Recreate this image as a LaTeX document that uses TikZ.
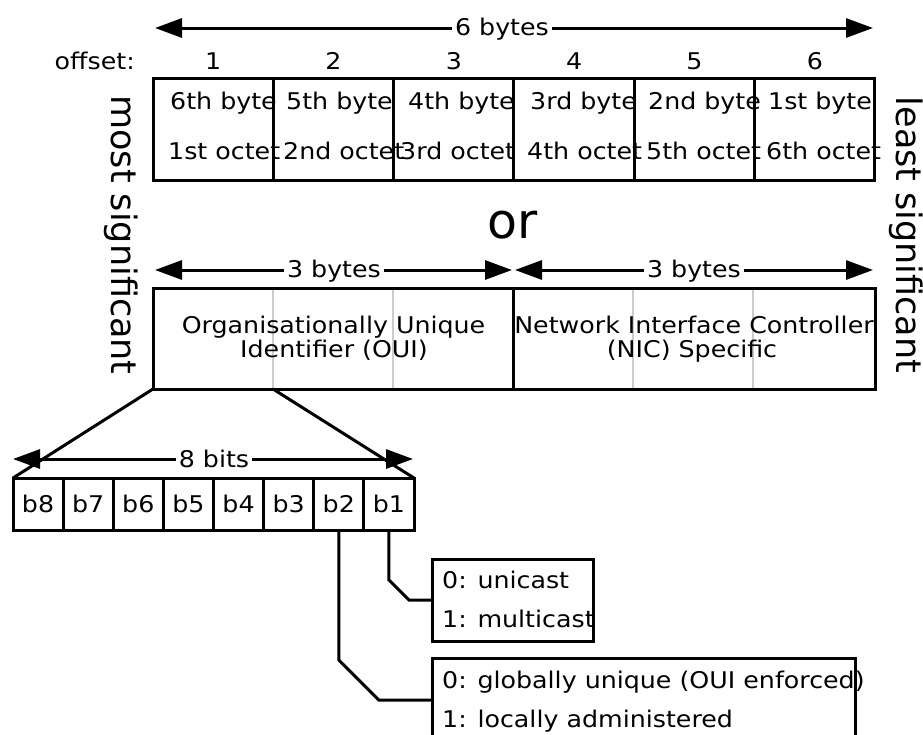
\documentclass[tikz,border=0pt]{standalone}
\usepackage{fontspec}
\setmainfont{DejaVu Sans}[FakeStretch=1.1]
\newfontfamily\sidefont{DejaVu Sans}
\usetikzlibrary{arrows.meta,calc}
\begin{document}
\begin{tikzpicture}[x=1pt,y=-1pt,
  lw/.style={line width=3pt},
  dim/.style={line width=3pt,{Triangle[length=27pt,width=19pt]}-{Triangle[length=27pt,width=19pt]}},
  txt/.style={font=\fontsize{23}{24}\selectfont, inner sep=0pt, text=black},
  lab/.style={font=\fontsize{23}{24}\selectfont, fill=white, inner xsep=3pt, inner ysep=0pt},
  cell/.style={draw, line width=3pt, outer sep=0pt, inner sep=0pt, minimum width=120.33pt, minimum height=102pt},
  half/.style={draw, line width=3pt, outer sep=0pt, inner sep=0pt, minimum height=101pt},
  bit/.style={draw, line width=3pt, outer sep=0pt, inner sep=0pt, minimum width=50.125pt, minimum height=52pt, font=\fontsize{23}{24}\selectfont},
  infobox/.style={draw, line width=3pt, outer sep=0pt, inner sep=0pt},
  side/.style={font=\sidefont\fontsize{35}{36}\selectfont, rotate=-90, inner sep=0pt},
  graydiv/.style={line width=2pt, draw=black!20}
]
\useasboundingbox (0,0) rectangle (923,734);
\fill[white] (0,0) rectangle (923,734);
\clip (0,0) rectangle (923,734);

% ---- 6 bytes arrow
\coordinate (t6l) at (155,28);
\coordinate (t6r) at (873,28);
\draw[dim] (t6l) -- (t6r);
\node[lab, anchor=base] (l6) at (502,35) {6 bytes};

% ---- offsets
\node[txt, anchor=base east] (off) at (135,69) {offset:};
\foreach \i in {1,...,6} {
  \node[txt, anchor=base] (o\i) at ({153+120.33*(\i-0.5)},69) {\i};
}

% ---- top row texts
\node[txt, anchor=base west] (r1c1) at (170,109) {6th byte};
\node[txt, anchor=base west] (r1c2) at (286,109) {5th byte};
\node[txt, anchor=base west] (r1c3) at (408,109) {4th byte};
\node[txt, anchor=base west] (r1c4) at (530,109) {3rd byte};
\node[txt, anchor=base west] (r1c5) at (648,109) {2nd byte};
\node[txt, anchor=base west] (r1c6) at (768,109) {1st byte};
\node[txt, anchor=base west] (r2c1) at (168,159) {1st octet};
\node[txt, anchor=base west] (r2c2) at (283,159) {2nd octet};
\node[txt, anchor=base west] (r2c3) at (400,159) {3rd octet};
\node[txt, anchor=base west] (r2c4) at (527,159) {4th octet};
\node[txt, anchor=base west] (r2c5) at (646,159) {5th octet};
\node[txt, anchor=base west] (r2c6) at (766,159) {6th octet};
% ---- top row cells
\foreach \i in {1,...,6} {
  \node[cell] (c\i) at ({153+120.33*(\i-0.5)},129) {};
}

% ---- side texts
\node[side] (ms) at (121,235) {most significant};
\node[side] (ls) at (906,235) {least significant};

% ---- or
\node[font=\sidefont\fontsize{49}{50}\selectfont, inner sep=0pt, anchor=base] (or) at (513,238) {or};

% ---- 3 bytes arrows
\coordinate (a3l) at (155,270);
\coordinate (a3m1) at (512,270);
\coordinate (a3m2) at (515,270);
\coordinate (a3r) at (873,270);
\draw[dim] (a3l) -- (a3m1);
\draw[dim] (a3m2) -- (a3r);
\node[lab, anchor=base] (l3a) at (334,277) {3 bytes};
\node[lab, anchor=base] (l3b) at (694,277) {3 bytes};

% ---- OUI / NIC box
\coordinate (d1) at (273,389);
\draw[graydiv] (273,288) -- (d1);
\draw[graydiv] (393,288) -- (393,389);
\draw[graydiv] (633,288) -- (633,389);
\draw[graydiv] (753,288) -- (753,389);
\node[txt, anchor=base] (oui1) at (333.5,333) {Organisationally Unique};
\node[txt, anchor=base] (oui2) at (334,357) {Identifier (OUI)};
\node[txt, anchor=base] (nic1) at (694,333) {Network Interface Controller};
\node[txt, anchor=base] (nic2) at (692,357) {(NIC) Specific};
\node[half, minimum width=360pt] (oui) at (333,338.5) {};
\node[half, minimum width=362pt] (nic) at (694,338.5) {};

% ---- bits
\foreach \n [count=\i from 0] in {8,...,1} {
  \node[bit] (b\n) at ({13+50.125*(\i+0.5)},504) {b\n};
}

% ---- zoom lines
\draw[lw] (oui.south west) -- (b8.north west);
\draw[lw] (d1) -- (b1.north east);

% ---- 8 bits arrow
\coordinate (a8l) at (13,459);
\coordinate (a8r) at (413,459);
\draw[dim] (a8l) -- (a8r);
\node[lab, anchor=base] (l8) at (214,467) {8 bits};

% ---- info boxes
\node[infobox, minimum width=161pt, minimum height=82pt] (info1) at (512.5,600) {};
\node[txt, anchor=base west] (i1a) at (442,588) {0: unicast};
\node[txt, anchor=base west] (i1b) at (442,627) {1: multicast};

\node[txt, anchor=base west] (i2a) at (442,688) {0: globally unique (OUI enforced)};
\node[txt, anchor=base west] (i2b) at (442,727) {1: locally administered};
\node[infobox, minimum width=423pt, minimum height=120pt] (info2) at (643.5,718) {};

% ---- connectors
\draw[lw] (b1.south) -- ++(0,50) -- ++(20,20) -- (info1.west);
\draw[lw] (b2.south) -- ++(0,130) -- ++(40,40) coordinate (k2) -- (k2 -| info2.west);
\end{tikzpicture}
\end{document}
